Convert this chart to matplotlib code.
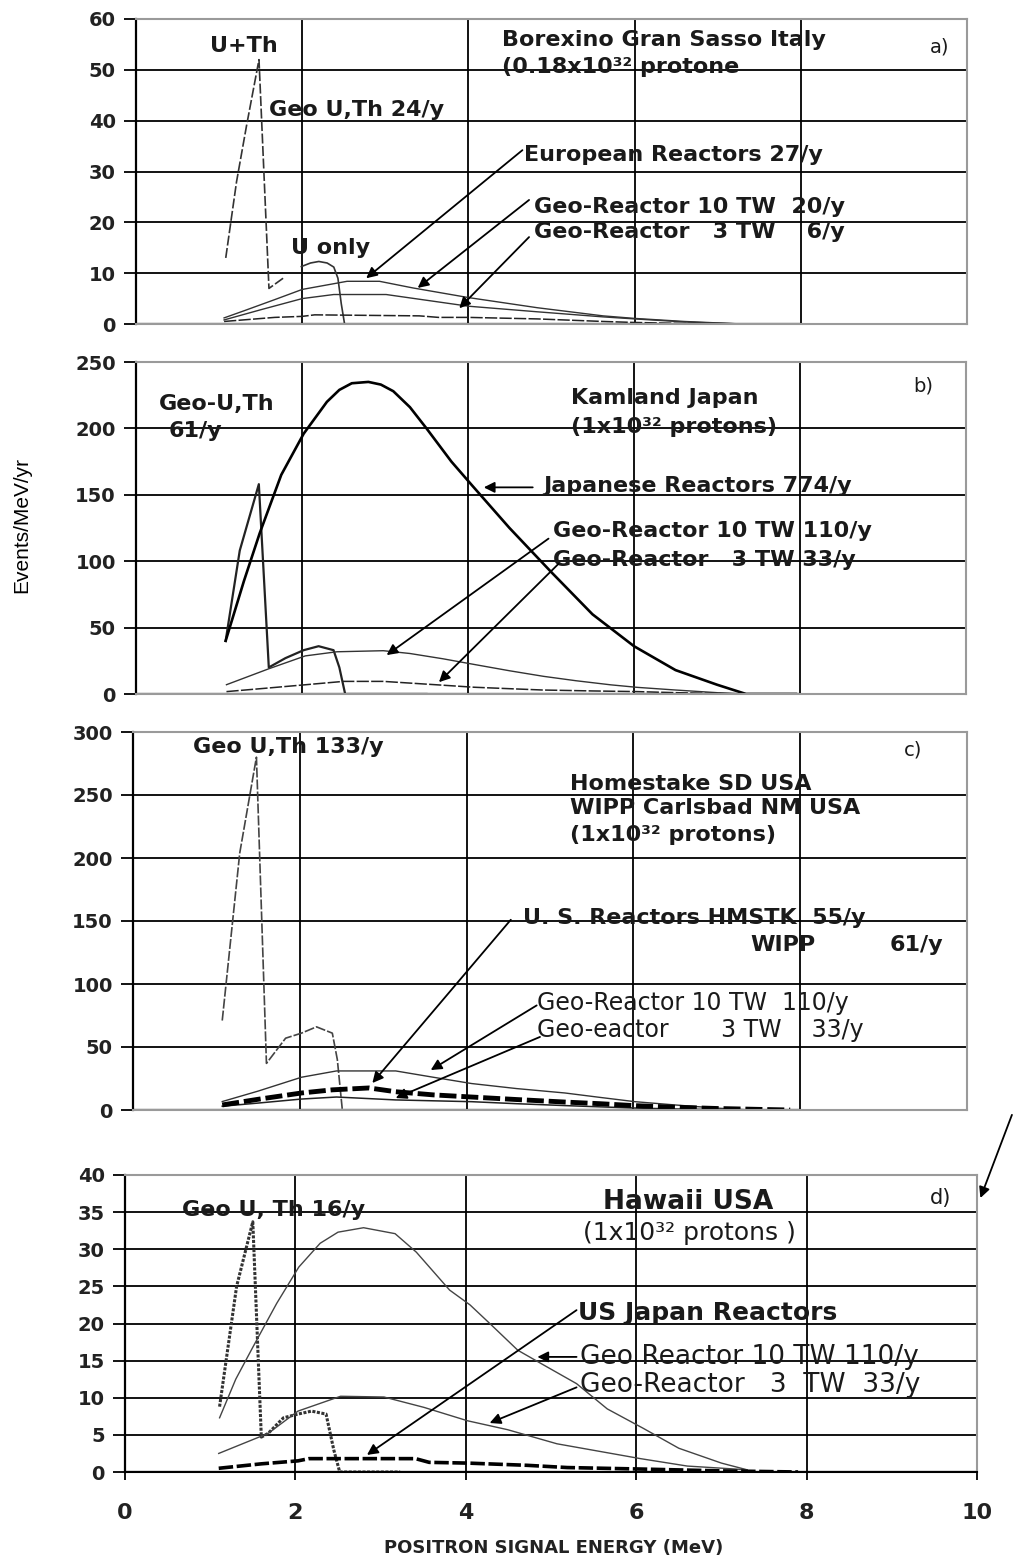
import matplotlib.pyplot as plt

plt.rcParams['font.family'] = ['DejaVu Sans']

# ---- data (energy in MeV, events/MeV/yr) ----
# a) Borexino
a_geo_x = [1.08, 1.21, 1.33, 1.48, 1.60, 1.77]
a_geo_y = [13, 28, 39, 52, 7, 9]
a_uonly_x = [1.99, 2.1, 2.2, 2.3, 2.38, 2.43, 2.47, 2.51]
a_uonly_y = [11.3, 12.0, 12.3, 12.0, 11.2, 9.0, 4.0, 0]
a_eur_x = [1.06, 1.3, 1.67, 2.0, 2.54, 2.93, 3.33, 4.0, 4.83, 5.62, 6.0, 6.6, 7.3]
a_eur_y = [1.2, 2.6, 4.8, 6.8, 8.4, 8.4, 7.1, 5.2, 3.2, 1.6, 1.1, 0.5, 0]
a_10tw_x = [1.06, 1.5, 2.0, 2.38, 3.01, 4.0, 4.83, 5.62, 6.0, 6.6, 7.3]
a_10tw_y = [0.8, 2.8, 5.0, 5.8, 5.8, 3.5, 2.4, 1.4, 1.0, 0.4, 0]
a_3tw_x = [1.06, 1.67, 2.0, 2.15, 3.41, 3.64, 4.0, 4.83, 5.62, 6.0, 6.6, 7.3]
a_3tw_y = [0.5, 1.3, 1.5, 1.8, 1.6, 1.3, 1.3, 1.0, 0.5, 0.3, 0.1, 0]

# b) Kamland
b_geo_x = [1.08, 1.25, 1.48, 1.60, 1.8, 2.02, 2.2, 2.38, 2.45, 2.52, 3.5]
b_geo_y = [40, 108, 158, 20, 27, 33, 36, 33, 20, 0, 0]
b_jap_x = [1.08, 1.3, 1.49, 1.75, 2.02, 2.3, 2.45, 2.6, 2.8, 2.95, 3.1, 3.3, 3.5, 3.8,
           4.05, 4.5, 5.0, 5.5, 6.0, 6.5, 7.0, 7.35, 7.95]
b_jap_y = [40, 85, 121, 165, 196, 220, 229, 234, 235, 233, 228, 216, 200, 175,
           157, 125, 92, 60, 36, 18, 7, 0, 0]
b_10tw_x = [1.09, 1.6, 2.04, 2.42, 2.98, 3.3, 3.7, 4.07, 4.5, 4.91, 5.3, 5.72, 6.04, 6.5, 7.0, 7.35]
b_10tw_y = [7, 19, 28.7, 31.8, 32.6, 30.5, 26.5, 22.3, 17.5, 13.3, 10, 6.9, 5, 3, 1, 0]
b_3tw_x = [1.09, 1.5, 2.03, 2.5, 2.98, 3.63, 4.07, 4.5, 4.9, 5.5, 6.04, 6.5, 7.0, 7.35]
b_3tw_y = [1.8, 4, 6.9, 9.5, 9.5, 6.9, 5.1, 4, 3, 2.3, 1.8, 1, 0.4, 0]

# c) Homestake / WIPP
c_geo_x = [1.07, 1.28, 1.48, 1.60, 1.83, 2.02, 2.2, 2.39, 2.45, 2.51, 2.6]
c_geo_y = [71, 204, 280, 37, 57, 61, 66, 61, 40, 0, 0]
c_10tw_x = [1.07, 1.5, 2.02, 2.44, 3.15, 3.6, 4.06, 4.6, 5.18, 5.6, 6.02, 6.5, 7.0, 7.4]
c_10tw_y = [6.7, 15, 26, 31, 31, 26, 21, 17, 13.5, 10, 6.6, 4, 1.5, 0]
c_us_x = [1.07, 1.5, 2.02, 2.39, 2.83, 3.15, 3.6, 4.06, 4.6, 5.18, 5.6, 6.0, 6.5, 7.0, 7.5, 7.88]
c_us_y = [4, 8.5, 13.5, 16, 17.5, 14.5, 12, 10.3, 8.3, 6.3, 5, 3.5, 2.2, 1.2, 0.5, 0]
c_3tw_x = [1.07, 1.5, 2.02, 2.44, 3.15, 3.6, 4.06, 4.6, 5.18, 5.6, 6.0, 6.5, 7.0, 7.4]
c_3tw_y = [3, 5.5, 8.7, 10.3, 8, 7.3, 6.6, 5, 3.5, 2.5, 1.6, 0.8, 0.3, 0]

# d) Hawaii
d_geo_x = [1.11, 1.31, 1.5, 1.6, 1.68, 1.86, 2.03, 2.19, 2.36, 2.45, 2.52, 3.23]
d_geo_y = [8.8, 25, 33.7, 4.7, 5.2, 7.3, 7.8, 8.2, 7.8, 3, 0, 0]
d_10tw_x = [1.11, 1.3, 1.5, 1.78, 2.04, 2.29, 2.5, 2.8, 3.17, 3.42, 3.81, 4.05, 4.3,
            4.61, 4.9, 5.3, 5.66, 6.08, 6.5, 7.0, 7.3]
d_10tw_y = [7.3, 12.5, 16.8, 22.7, 27.6, 30.8, 32.3, 32.9, 32.1, 29.6, 24.5, 22.5, 19.8,
            16.4, 14.5, 11.9, 8.5, 5.9, 3.2, 1.2, 0.3]
d_3tw_x = [1.1, 1.68, 2.03, 2.53, 3.04, 3.51, 4.02, 4.49, 5.07, 6.05, 6.6, 7.3]
d_3tw_y = [2.5, 5.2, 8.2, 10.2, 10.1, 8.7, 6.9, 5.7, 3.8, 1.8, 0.8, 0.3]
d_us_x = [1.1, 1.6, 2.03, 2.16, 3.41, 3.57, 4.02, 4.72, 5.19, 6.05, 7.0, 7.9]
d_us_y = [0.5, 1.1, 1.5, 1.8, 1.8, 1.3, 1.2, 0.9, 0.6, 0.4, 0.15, 0]

grid_x = [2, 4, 6, 8]

W, H = 1015, 1559
fig = plt.figure(figsize=(W / 100, H / 100), dpi=100)


def box(l, t, r, b):
    return [l / W, 1 - b / H, (r - l) / W, (b - t) / H]


def setup(ax, ymax, ystep, full_zero=False):
    ax.set_xlim(0, 10)
    ax.set_ylim(0, ymax)
    yt = list(range(0, ymax + 1, ystep))
    ax.set_yticks(yt)
    for y in yt[1:-1]:
        ax.axhline(y, color='black', lw=1.3, zorder=1)
    ax.axhline(0, xmax=1.0 if full_zero else 0.8, color='black', lw=1.6, zorder=1)
    for x in grid_x:
        ax.axvline(x, color='black', lw=1.3, zorder=1)
    for s in ['top', 'right', 'bottom']:
        ax.spines[s].set_color('#9a9a9a')
        ax.spines[s].set_linewidth(1.5)
    ax.spines['left'].set_color('black')
    ax.spines['left'].set_linewidth(1.6)
    ax.tick_params(axis='y', direction='out', length=8.5, width=1.3, pad=6,
                   labelsize=14)
    for lab in ax.get_yticklabels():
        lab.set_fontweight('bold')
        lab.set_color('#222222')


def arrow(ax, start, head):
    ax.annotate('', xy=head, xytext=start, annotation_clip=False,
                arrowprops=dict(arrowstyle='-|>', color='black', lw=1.3,
                                mutation_scale=16, shrinkA=0, shrinkB=0))


TXT = dict(fontsize=16, fontweight='bold', color='#1a1a1a', va='center', ha='left')

# ---------------- a) ----------------
ax = fig.add_axes(box(136, 19, 967, 324))
setup(ax, 60, 10)
ax.set_xticks([])
ax.plot(a_geo_x, a_geo_y, color='#333333', lw=1.2, ls=(0, (6, 1.5)))
ax.plot(a_uonly_x, a_uonly_y, color='#333333', lw=1.2)
ax.plot(a_eur_x, a_eur_y, color='#333333', lw=1.0)
ax.plot(a_10tw_x, a_10tw_y, color='#333333', lw=1.0)
ax.plot(a_3tw_x, a_3tw_y, color='#222222', lw=1.1, ls=(0, (8, 1.5)))
ax.text(0.89, 54.7, 'U+Th', **TXT)
ax.text(1.6, 42.1, 'Geo U,Th 24/y', **TXT)
ax.text(1.87, 15.0, 'U only', **TXT)
ax.text(4.4, 55.9, 'Borexino Gran Sasso Italy', **TXT)
ax.text(4.4, 50.6, '(0.18x10³² protone', **TXT)
ax.text(9.55, 54.5, 'a)', fontsize=14, color='#1a1a1a', va='center')
ax.text(4.67, 33.3, 'European Reactors 27/y', **TXT)
ax.text(4.79, 23.0, 'Geo-Reactor 10 TW  20/y', **TXT)
ax.text(4.79, 18.1, 'Geo-Reactor   3 TW    6/y', **TXT)
arrow(ax, (4.65, 34.2), (2.77, 9.0))
arrow(ax, (4.73, 24.4), (3.39, 7.1))
arrow(ax, (4.73, 17.1), (3.89, 3.1))

# ---------------- b) ----------------
ax = fig.add_axes(box(136, 362, 966, 694))
setup(ax, 250, 50)
ax.set_xticks([])
ax.plot(b_geo_x, b_geo_y, color='#222222', lw=1.6)
ax.plot(b_jap_x, b_jap_y, color='black', lw=1.9)
ax.plot(b_10tw_x, b_10tw_y, color='#333333', lw=1.0)
ax.plot(b_3tw_x, b_3tw_y, color='#222222', lw=1.1, ls=(0, (8, 1.5)))
ax.text(0.28, 218, 'Geo-U,Th', **TXT)
ax.text(0.39, 197.7, '61/y', **TXT)
ax.text(5.24, 223, 'Kamland Japan', **TXT)
ax.text(5.24, 200.8, '(1x10³² protons)', **TXT)
ax.text(9.37, 232, 'b)', fontsize=14, color='#1a1a1a', va='center')
ax.text(4.91, 156.4, 'Japanese Reactors 774/y', **TXT)
ax.text(5.03, 122.4, 'Geo-Reactor 10 TW 110/y', **TXT)
ax.text(5.03, 100.8, 'Geo-Reactor   3 TW 33/y', **TXT)
arrow(ax, (4.78, 155.6), (4.19, 155.6))
arrow(ax, (4.97, 117), (3.02, 29.3))
arrow(ax, (5.09, 98), (3.65, 8.9))

# ---------------- c) ----------------
ax = fig.add_axes(box(133, 732, 967, 1110))
setup(ax, 300, 50)
ax.set_xticks([])
ax.plot(c_geo_x, c_geo_y, color='#444444', lw=1.2, ls=(0, (6, 1.2)))
ax.plot(c_10tw_x, c_10tw_y, color='#333333', lw=1.0)
ax.plot(c_3tw_x, c_3tw_y, color='#222222', lw=1.1)
ax.plot(c_us_x, c_us_y, color='black', lw=3.5, ls=(0, (3.5, 1)))
ax.text(0.72, 288, 'Geo U,Th 133/y', **TXT)
ax.text(9.24, 286, 'c)', fontsize=14, color='#1a1a1a', va='center')
ax.text(5.24, 259, 'Homestake SD USA', **TXT)
ax.text(5.24, 239.5, 'WIPP Carlsbad NM USA', **TXT)
ax.text(5.24, 218, '(1x10³² protons)', **TXT)
ax.text(4.68, 152, 'U. S. Reactors HMSTK  55/y', **TXT)
ax.text(7.4, 131, 'WIPP', **TXT)
ax.text(9.07, 131, '61/y', **TXT)
ax.text(4.84, 85, 'Geo-Reactor 10 TW  110/y', fontsize=17, color='#1a1a1a', va='center')
ax.text(4.84, 63.5, 'Geo-eactor       3 TW    33/y', fontsize=17, color='#1a1a1a', va='center')
arrow(ax, (4.53, 151), (2.87, 21.4))
arrow(ax, (4.84, 83), (3.57, 31.7))
arrow(ax, (4.88, 58), (3.15, 9.5))

# ---------------- d) ----------------
ax = fig.add_axes(box(125, 1175, 977, 1472))
setup(ax, 40, 5, full_zero=True)
ax.set_xticks(range(0, 11, 2))
ax.tick_params(axis='x', direction='out', length=6, width=1.3, pad=16, labelsize=16)
for lab in ax.get_xticklabels():
    lab.set_fontweight('bold')
    lab.set_color('#222222')
ax.spines['bottom'].set_color('black')
ax.plot(d_geo_x, d_geo_y, color='#333333', lw=2.2, ls=(0, (1, 0.5)))
ax.plot(d_10tw_x, d_10tw_y, color='#444444', lw=1.0)
ax.plot(d_3tw_x, d_3tw_y, color='#444444', lw=1.0)
ax.plot(d_us_x, d_us_y, color='black', lw=2.6, ls=(0, (4, 1)))
ax.text(0.67, 35.3, 'Geo U, Th 16/y', fontsize=16, fontweight='bold', color='#1a1a1a', va='center')
ax.text(5.61, 36.4, 'Hawaii USA', fontsize=19, fontweight='bold', color='#1a1a1a', va='center')
ax.text(5.38, 32.2, '(1x10³² protons )', fontsize=18, color='#1a1a1a', va='center')
ax.text(9.45, 36.9, 'd)', fontsize=15, color='#1a1a1a', va='center')
ax.text(5.32, 21.4, 'US Japan Reactors', fontsize=18, fontweight='bold', color='#1a1a1a', va='center')
ax.text(5.34, 15.5, 'Geo Reactor 10 TW 110/y', fontsize=19, color='#1a1a1a', va='center')
ax.text(5.34, 11.7, 'Geo-Reactor   3  TW  33/y', fontsize=19, color='#1a1a1a', va='center')
arrow(ax, (5.3, 21.8), (2.84, 2.3))
arrow(ax, (5.3, 15.5), (4.84, 15.5))
arrow(ax, (5.3, 11.4), (4.28, 6.6))
arrow(ax, (10.41, 48.1), (10.04, 36.9))

fig.text(22 / W, 1 - 525 / H, 'Events/MeV/yr', rotation=90, fontsize=15,
         family=['Liberation Sans'], ha='center', va='center')
fig.text(554 / W, 1 - 1548 / H, 'POSITRON SIGNAL ENERGY (MeV)', fontsize=13,
         fontweight='bold', color='#222222', ha='center', va='center')

fig.savefig('out.png', dpi=100)
